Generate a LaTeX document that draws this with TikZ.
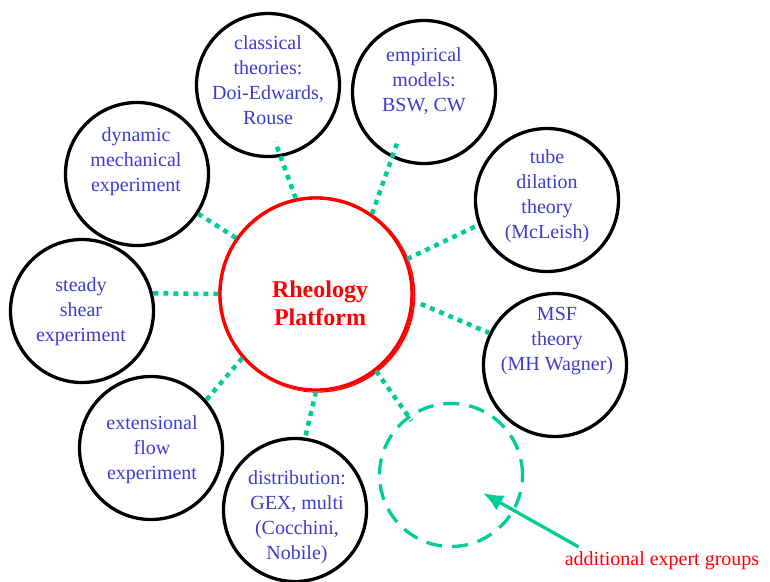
\documentclass[tikz,border=0pt]{standalone}
\usepackage{fontspec}
\setmainfont{Liberation Serif}
\usetikzlibrary{arrows.meta,calc}
\definecolor{grpblue}{RGB}{60,60,205}
\definecolor{linkgreen}{RGB}{0,204,153}

\begin{document}
\begin{tikzpicture}[x=1pt,y=-1pt,
  grp/.style={circle,draw,line width=3.3pt,minimum size=143pt,inner sep=0pt},
  grptext/.style={text=grpblue,align=center,font=\fontsize{20}{25}\selectfont},
  link/.style={draw=linkgreen,line width=4.5pt,dash pattern=on 5pt off 5pt}]
  \useasboundingbox (0,0) rectangle (770,581);

  % platform in the middle
  \node[circle,draw=red,line width=3.3pt,minimum size=192pt,inner sep=0pt] (plat) at (316,294) {};
  \fill[red,even odd rule] ($(plat)+(1.6,1)$) circle[radius=97.65pt] (plat) circle[radius=97.65pt];
  \node[text=red,align=center,font=\bfseries\fontsize{24}{28}\selectfont] (plat-txt) at (320,303) {Rheology\\Platform};

  % expert groups
  \node[grp] (ct) at (268,85) {};
  \node[grptext] (ct-txt) at (268,80) {classical\\theories:\\Doi-Edwards,\\Rouse};
  \node[grp] (em) at (424,92) {};
  \node[grptext] (em-txt) at (424,81) {empirical\\models:\\BSW, CW};
  \node[grp] (dm) at (137,174) {};
  \node[grptext] (dm-txt) at (136,162) {dynamic\\mechanical\\experiment};
  \node[grp] (td) at (547,200) {};
  \node[grptext] (td-txt) at (547,196) {tube\\dilation\\theory\\(McLeish)};
  \node[grp] (ss) at (82,311) {};
  \node[grptext] (ss-txt) at (81,312) {steady\\shear\\experiment};
  \node[grp] (ms) at (555,365) {};
  \node[grptext] (ms-txt) at (557,341) {MSF\\theory\\(MH Wagner)};
  \node[grp] (ef) at (151,448) {};
  \node[grptext] (ef-txt) at (152,450) {extensional\\flow\\experiment};
  \node[grp] (di) at (295,510) {};
  \node[grptext] (di-txt) at (297,517) {distribution:\\GEX, multi\\(Cocchini,\\Nobile)};
  \node[grp,draw=linkgreen,dash pattern=on 16pt off 10pt] (ad) at (451,475) {};

  % links to the platform
  \draw[link,shorten >=-16pt] (plat.102) -- (ct.-80);
  \draw[link,shorten >=-15pt] (plat.55) -- (em.-116);
  \draw[link] (plat.145) -- (dm.-33);
  \draw[link] (plat.180) -- (ss.14);
  \draw[link] (plat.221) -- (ef.41);
  \draw[link] (plat.-90) -- (di.82);
  \draw[link,shorten >=-6pt] (plat.-52) -- (ad.126);
  \draw[link,shorten <=8pt] (plat.-4) -- (ms.154);
  \draw[link] (plat.21) -- (td.-160);

  % note
  \node[text=red,inner sep=0pt,anchor=base,font=\fontsize{20}{24}\selectfont] (ad-lbl) at (662,565) {additional expert groups};
  \coordinate (ad-tip) at (483,493);
  \draw[linkgreen,line width=3.3pt,-{Latex[length=20pt,width=17pt]}] ([xshift=14pt,yshift=4pt]ad-lbl.north west) -- (ad-tip);
\end{tikzpicture}
\end{document}
